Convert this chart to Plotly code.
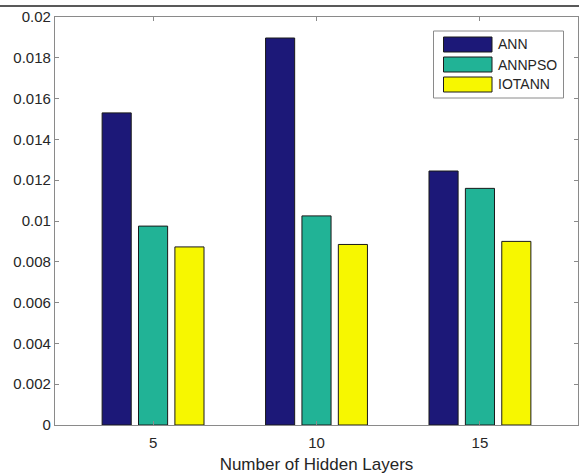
import plotly.graph_objects as go

# Data
hidden_layers = [5, 10, 15]
series_names = ["ANN", "ANNPSO", "IOTANN"]
ann = [0.01530, 0.01897, 0.01245]
annpso = [0.00975, 0.01025, 0.01160]
iotann = [0.00873, 0.00885, 0.00900]
y_ticks = [0, 0.002, 0.004, 0.006, 0.008, 0.01, 0.012, 0.014, 0.016, 0.018, 0.02]
y_tick_text = ["0", "0.002", "0.004", "0.006", "0.008", "0.01", "0.012",
               "0.014", "0.016", "0.018", "0.02"]
x_tick_text = ["5", "10", "15"]

colors = ["#1c1878", "#21b396", "#f7f700"]
values = [ann, annpso, iotann]

W, H = 579, 474
L, R, T, B = 55, 1, 17, 49
FONT = "Liberation Sans, Arial, Helvetica, sans-serif"
TXT = "#262626"
AX = "#8a8a8a"

fig = go.Figure()
for name, vals, col in zip(series_names, values, colors):
    fig.add_trace(go.Bar(
        x=hidden_layers, y=vals, name=name,
        marker=dict(color=col, line=dict(color="#1a1a1a", width=1)),
        showlegend=False,
    ))

pw, ph = W - L - R, H - T - B


def px_x(p):
    return (p - L) / pw


def px_y(p):
    return (H - B - p) / ph


shapes = []
annotations = []

# Thin dark rule across the top of the figure
shapes.append(dict(type="line", xref="paper", yref="paper",
                   x0=px_x(0), x1=px_x(W), y0=px_y(6), y1=px_y(6),
                   line=dict(color="#222222", width=1.5)))

# Legend box
shapes.append(dict(type="rect", xref="paper", yref="paper",
                   x0=px_x(433.5), x1=px_x(563.5), y0=px_y(98), y1=px_y(31),
                   line=dict(color=AX, width=1), fillcolor="white", layer="above"))
row_centers = [44.5, 64.5, 84.5]
for name, col, cy in zip(series_names, colors, row_centers):
    shapes.append(dict(type="rect", xref="paper", yref="paper",
                       x0=px_x(443.5), x1=px_x(492), y0=px_y(cy + 7.5), y1=px_y(cy - 7.5),
                       line=dict(color="#1a1a1a", width=1), fillcolor=col, layer="above"))
    annotations.append(dict(xref="paper", yref="paper", x=px_x(496), y=px_y(cy),
                            text=name, showarrow=False, xanchor="left", yanchor="middle",
                            font=dict(family=FONT, size=14, color=TXT)))

fig.update_layout(
    width=W, height=H,
    margin=dict(l=L, r=R, t=T, b=B, pad=0),
    paper_bgcolor="white", plot_bgcolor="white",
    barmode="group", bargap=0.332, bargroupgap=0.2,
    font=dict(family=FONT, size=15, color=TXT),
    shapes=shapes, annotations=annotations,
    xaxis=dict(
        range=[2, 18], tickvals=hidden_layers, ticktext=x_tick_text,
        ticks="inside", ticklen=4, tickcolor=AX, showgrid=False, zeroline=False,
        showline=True, linecolor=AX, linewidth=1.3, mirror="ticks",
        tickfont=dict(size=15, color=TXT), ticklabelstandoff=4,
        title=dict(text="Number of Hidden Layers", standoff=10,
                   font=dict(size=17, color=TXT)),
    ),
    yaxis=dict(
        range=[0, 0.02], tickvals=y_ticks, ticktext=y_tick_text,
        ticks="inside", ticklen=4, tickcolor=AX, showgrid=False, zeroline=False,
        showline=True, linecolor=AX, linewidth=1.3, mirror="ticks",
        tickfont=dict(size=15, color=TXT),
    ),
)

fig.write_html("out.html")
